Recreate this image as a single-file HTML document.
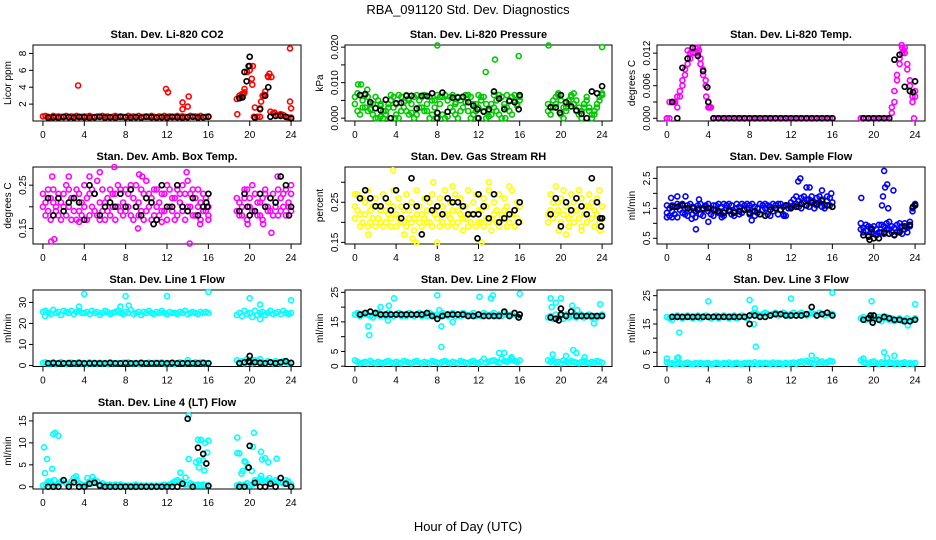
<!DOCTYPE html>
<html><head><meta charset="utf-8"><title>RBA_091120 Std. Dev. Diagnostics</title>
<style>
html,body{margin:0;padding:0;background:#fff;}
svg{display:block;font-family:"Liberation Sans",Arial,sans-serif;}
</style></head>
<body>
<svg id="chart" width="936" height="540" viewBox="0 0 936 540" xmlns="http://www.w3.org/2000/svg">
<rect x="0" y="0" width="936" height="540" fill="#fff"/>
<text x="468" y="14" font-size="13" text-anchor="middle">RBA_091120  Std. Dev. Diagnostics</text>
<text x="468" y="531" font-size="13" text-anchor="middle">Hour of Day (UTC)</text>
</svg>
<script>
const hoursA=[0,0.25,0.5,0.75,1,1.25,1.5,1.75,2,2.25,2.5,2.75,3,3.25,3.5,3.75,
4,4.25,4.5,4.75,5,5.25,5.5,5.75,6,6.25,6.5,6.75,7,7.25,7.5,7.75,
8,8.25,8.5,8.75,9,9.25,9.5,9.75,10,10.25,10.5,10.75,11,11.25,11.5,11.75,
12,12.25,12.5,12.75,13,13.25,13.5,13.75,14,14.25,14.5,14.75,15,15.25,15.5,15.75,
16,
18.75,19,19.25,19.5,19.75,20,20.25,20.5,20.75,21,21.25,21.5,21.75,22,22.25,22.5,22.75,23,23.25,23.5,23.75,24];
const hoursB=[0.5,1,1.5,2,2.5,3,3.5,4,4.5,5,5.5,6,6.5,7,7.5,8,8.5,9,9.5,10,10.5,11,11.5,12,12.5,13,13.5,14,14.5,15,15.5,16,
19,19.5,20,20.5,21,21.5,22,22.5,23,23.5,24];
const xTickLabels=[0,4,8,12,16,20,24];

// CO2
const co2Main=[.55,.6,.5,.45,.6,.5,.55,.5,.45,.6,.5,.55,.5,.6,.45,.5,
.55,.5,.6,.5,.45,.55,.5,.6,.5,.55,.45,.5,.6,.5,.55,.5,
.45,.6,.5,.55,.5,.6,.45,.5,.55,.5,.6,.5,.45,.55,.5,.6,
.5,.55,.45,.5,.6,.5,.55,.5,.45,.6,.5,.55,.5,.6,.45,.5,
.55,
2.6,3.0,3.2,3.4,5.8,6.5,4.3,1.6,.5,1.5,3.0,3.5,5.3,1.1,.9,.6,.7,.6,.7,.5,.4,.4];
const co2OutX=[3.4,11.9,12.1,13.5,13.5,14.1,14.0,18.8,19.5,20.3,20.2,21.1,21.9,22.1,23.9,23.9,24.0,19.2,19.4,21.4,21.8,20.0,20.4,21.0,22.4,23.0];
const co2OutY=[4.2,3.8,3.4,2.2,1.4,2.9,1.7,0.8,3.8,6.5,5.0,2.3,5.6,5.2,8.6,2.3,1.5,2.9,3.2,3.1,5.2,6.0,0.5,0.5,1.0,0.8];
const co2Black=[.4,.45,.4,.5,.45,.4,.5,.45,.4,.45,.5,.4,.45,.4,.5,.45,.4,.45,.4,.5,.45,.4,.45,.4,.5,.45,.4,.45,.5,.4,.45,.5,
2.7,5.8,7.6,.4,1.4,3.0,.5,.6,.6,.5,.3];
const co2BlackX=[19.7,19.9,19.3,21.8];
const co2BlackY=[4.7,6.5,2.8,4.0];

// Pressure
const presA=[.006,.007,.0065,.005,.003,.002,.0025,.004,.006,.005,.004,.002,.001,.003,.005,.006,
.004,.0065,.006,.003,.002,.001,.004,.006,.0065,.005,.003,.002,.004,.006,.005,.003,
.0015,.004,.006,.0065,.005,.003,.002,.004,.006,.005,.003,.0045,.0065,.006,.004,.002,
.003,.005,.006,.004,.002,.001,.003,.005,.0065,.006,.004,.003,.005,.006,.0065,.004,
.006,
.004,.003,.005,.006,.007,.005,.003,.002,.004,.006,.007,.005,.003,.002,.004,.005,.003,.001,.002,.004,.006,.007];
const presB=[.004,.002,.001,.003,.0065,.006,.004,.001,0,0,.0005,0,.002,.004,.0065,.003,
.001,0,.002,.0045,.0065,.005,.0015,0,.001,.003,.006,.0065,.002,0,.001,.005,
.0065,.006,.001,0,.0005,.006,.0065,.001,0,.002,.006,.0065,.002,0,.001,.004,
.0065,.006,.002,0,.0005,.004,.0065,.002,.001,0,.003,.0065,.002,.001,.005,.0035,
.005,
.002,.001,.003,.004,.0065,.001,0,.003,.005,.0065,.004,.002,.001,0,.003,.006,.002,0,.001,.003,.005,.0065];
const presOutX=[8,12.7,13.6,15.9,18.8,24,0.3,0.6,1.2,3.4,3.9,7.9,11.9,14.6,2.5,5.2,9.8];
const presOutY=[.0205,.013,.0165,.0175,.0205,.020,.0095,.0095,.008,0,0,0,0,0,.0035,.0055,.0045];
const presBlack=[.0065,.0068,.0045,.0028,.0022,.0052,0,.0042,.0043,.0063,.0063,.0027,.0063,.0062,.007,.0015,.0072,.0018,.0058,.0058,.006,.0045,.0035,0,.0018,.0025,.0075,.0055,.0025,.0048,.0045,.0065,
.0031,.003,.0065,.0045,.0033,.0022,.0012,0,.0075,.007,.009];
const presBlackX=[8,11.9,15.9,19.9];
const presBlackY=[0,.0025,.0025,.0015];

// Li-820 Temp
const tempA=[0,.003,.003,.003,.004,.005,.006,.008,.010,.011,.012,.013,.012,.011,.009,.007,
.003,.002,0,0,0,0,0,0,0,0,0,0,0,0,0,0,
0,0,0,0,0,0,0,0,0,0,0,0,0,0,0,0,
0,0,0,0,0,0,0,0,0,0,0,0,0,0,0,0,
0,
0,0,0,0,0,0,0,0,0,0,0,0,.002,.005,.008,.011,.013,.012,.009,.006,.004,.005];
const tempB=[0,0,.003,.003,.002,.004,.007,.009,.011,.012,.013,.012,.013,.010,.008,.006,
.002,.002,0,0,0,0,0,0,0,0,0,0,0,0,0,0,
0,0,0,0,0,0,0,0,0,0,0,0,0,0,0,0,
0,0,0,0,0,0,0,0,0,0,0,0,0,0,0,0,
0,
0,0,0,0,0,0,0,0,0,0,0,0,.001,.003,.007,.010,.012,.013,.010,.007,.003,.004];
const tempOutX=[0.6,0.8,2.0,3.8,23.9,4.1,22.7,3.1,22.9];
const tempOutY=[.003,.003,.0125,.004,0,.002,.0135,.0125,.0125];
const tempBlack=[.003,0,.0093,.011,.013,.0115,.0087,.003,0,0,0,0,0,0,0,0,0,0,0,0,0,0,0,0,0,0,0,0,0,0,0,0,
0,0,0,0,0,0,.0108,.0117,.0058,.005,.0068];
const tempBlackX=[3.9,23.8];
const tempBlackY=[.0057,.0048];

// Amb box temp
const ambA=[.23,.21,.19,.22,.24,.2,.18,.21,.23,.25,.2,.17,.22,.24,.19,.21,
.25,.22,.18,.2,.23,.26,.21,.19,.17,.22,.24,.2,.23,.25,.19,.21,
.24,.2,.18,.22,.25,.21,.19,.23,.26,.2,.22,.18,.24,.21,.19,.23,
.25,.2,.22,.17,.24,.21,.19,.23,.26,.2,.18,.22,.24,.21,.19,.22,
.2,
.19,.21,.18,.22,.24,.2,.19,.23,.21,.18,.22,.24,.2,.19,.23,.21,.18,.22,.2,.24,.21,.23];
const ambB=[.2,.18,.24,.17,.21,.19,.23,.17,.2,.18,.24,.22,.19,.17,.23,.18,
.2,.17,.23,.24,.19,.18,.17,.24,.21,.19,.18,.23,.17,.2,.24,.18,
.19,.23,.25,.17,.2,.18,.24,.17,.19,.23,.17,.24,.2,.18,.23,.19,
.17,.24,.19,.22,.18,.23,.25,.17,.2,.23,.24,.18,.2,.17,.23,.19,
.18,
.22,.18,.2,.24,.17,.22,.25,.19,.18,.21,.17,.23,.19,.22,.18,.2,.24,.19,.23,.18,.2,.19];
const ambOutX=[0.8,1.1,0.9,2.5,4.5,5.5,6.9,9.3,9.6,13.9,14.2,9.2,19.8,21.3,22.1,22.7,24,16,3.5,11.5,15.2];
const ambOutY=[.12,.125,.27,.27,.27,.28,.295,.275,.27,.28,.115,.15,.16,.16,.14,.27,.25,.17,.165,.165,.16];
const ambBlack=[.22,.18,.22,.19,.21,.22,.21,.17,.25,.23,.18,.2,.21,.2,.23,.2,.24,.2,.18,.22,.21,.17,.25,.2,.2,.25,.2,.19,.22,.18,.2,.23,
.19,.23,.18,.19,.23,.2,.22,.21,.27,.25,.2];
const ambBlackX=[15.8,15.9,19.8,23.8,10.7];
const ambBlackY=[.21,.2,.2,.18,.16];

// RH
const rhA=[.24,.27,.22,.2,.25,.28,.23,.21,.26,.24,.2,.27,.23,.25,.21,.28,
.22,.26,.24,.2,.27,.23,.25,.21,.28,.24,.22,.26,.2,.25,.27,.23,
.21,.26,.24,.28,.22,.25,.2,.27,.23,.26,.21,.24,.28,.22,.25,.27,
.23,.2,.26,.24,.28,.21,.25,.23,.27,.22,.26,.24,.2,.28,.23,.25,
.24,
.22,.27,.25,.29,.23,.26,.28,.24,.21,.27,.25,.23,.28,.26,.22,.24,.27,.25,.23,.26,.28,.24];
const rhB=[.21,.23,.19,.26,.22,.19,.2,.24,.19,.21,.23,.19,.2,.22,.19,.24,
.19,.21,.2,.23,.19,.21,.2,.18,.22,.2,.19,.21,.23,.2,.19,.22,
.24,.19,.2,.22,.19,.21,.23,.19,.2,.22,.18,.21,.19,.2,.22,.19,
.2,.23,.19,.21,.2,.18,.22,.2,.19,.21,.23,.19,.2,.22,.19,.21,
.2,
.2,.23,.21,.22,.25,.2,.22,.24,.19,.22,.2,.23,.21,.19,.22,.2,.24,.21,.19,.22,.2,.21];
const rhOutX=[3.7,4.8,5.6,6,8,12.3,13,1.3,7.6,19.8,20.5,22,23.8,0,9.5,15];
const rhOutY=[.33,.17,.16,.15,.15,.15,.3,.17,.3,.18,.17,.18,.18,.27,.29,.29];
const rhBlack=[.26,.28,.26,.24,.24,.26,.23,.28,.21,.24,.31,.24,.17,.26,.23,.24,.22,.26,.25,.25,.24,.22,.22,.27,.24,.21,.27,.2,.21,.22,.23,.25,
.22,.26,.19,.25,.23,.26,.24,.22,.31,.25,.21];
const rhBlackX=[11.9,12,15.9,23.9,23.8];
const rhBlackY=[.16,.22,.2,.19,.21];

// Sample flow
const flowA=[1.6,1.5,1.4,1.55,1.65,1.45,1.35,1.5,1.6,1.45,1.55,1.4,1.5,1.65,1.45,1.55,
1.4,1.5,1.6,1.45,1.35,1.55,1.65,1.5,1.45,1.6,1.4,1.5,1.55,1.65,1.45,1.5,
1.6,1.4,1.55,1.5,1.65,1.45,1.5,1.6,1.55,1.4,1.5,1.65,1.45,1.55,1.6,1.5,
1.7,1.8,1.65,1.75,1.85,1.7,1.6,1.8,1.75,1.65,1.85,1.7,1.8,1.6,1.75,1.85,
1.7,
1.0,.85,.75,.9,.7,.65,.8,.95,.7,.9,1.0,.8,.7,.85,.95,.75,.9,1.0,.85,1.05,1.5,1.6];
const flowB=[1.35,1.25,1.6,1.3,1.2,1.6,1.65,1.3,1.25,1.65,1.3,1.2,1.6,1.3,1.25,1.6,
1.65,1.3,1.25,1.6,1.65,1.3,1.25,1.6,1.65,1.3,1.25,1.65,1.3,1.35,1.6,1.65,
1.3,1.65,1.25,1.35,1.3,1.6,1.65,1.3,1.25,1.65,1.6,1.3,1.65,1.3,1.25,1.6,
1.55,1.6,1.9,1.55,1.5,1.9,1.8,1.55,1.9,1.5,1.6,1.9,1.55,1.5,1.9,1.6,
1.55,
.8,.7,.95,.6,.85,.9,.6,.7,.95,.65,.8,1.05,.9,.6,.7,1.0,.65,.8,.7,.9,1.4,1.65];
const flowOutX=[0.4,1,1.8,2.8,3.1,4,8.2,12.7,12.9,13.5,13.8,15,15.9,18.8,21.0,21.3,20.9,21.1,21.9,21.4,20.8,0,0.5,2.4,5.3,11.3];
const flowOutY=[1.85,1.9,1.9,0.8,1.8,1.05,1.1,2.4,2.5,2.2,2.2,2.1,2.0,1.85,2.75,2.3,1.9,2.2,2.1,1.5,1.6,1.2,1.2,1.15,1.2,1.25];
const flowBlack=[1.55,1.55,1.6,1.5,1.5,1.45,1.5,1.5,1.45,1.4,1.35,1.4,1.35,1.4,1.45,1.35,1.4,1.3,1.25,1.45,1.5,1.45,1.6,1.5,1.55,1.65,1.6,1.7,1.65,1.75,1.6,1.55,
.6,.55,.5,.5,.7,.65,.62,.7,.9,.95,1.6];
const flowBlackX=[19.8,23.8,19.6];
const flowBlackY=[.8,1.55,.45];

// Line 1
const l1High=[25.5,26,25,24.5,26.5,25,25.5,24,26,25.5,25,26,24.5,25.5,26,25,
25,25.5,24.5,26,25,25.5,24,25,26,25.5,24.5,25,25.5,26,25,24.5,
25.5,25,26.5,24.5,25,25.5,24,25.5,25,26,25,24.5,25.5,25,26,25,
24.5,25.5,25,25,24.5,25.5,25,26,24.5,25,25.5,25,24.5,25.5,25,25.5,
25,
24,25,23.5,26,24.5,25,23,26,24,25,25.5,24,25,26,24.5,25,25.5,24.5,26,25,24.5,25];
const l1Low=[1.2,1.5,0.8,1,1.3,0.9,1.1,1.6,1,0.8,1.2,1.4,0.9,1.1,1.3,1,
1.2,0.8,1.5,1,1.1,0.9,1.3,1,1.2,0.8,1.4,1.1,0.9,1.2,1,1.3,
1.1,1.5,0.9,1,1.2,0.8,1.3,1.1,1,1.4,0.9,1.2,1,1.1,1.5,0.9,
1.2,1,1.3,0.8,1.1,1.5,1.2,1,2.5,1.3,0.9,1.5,1.2,1.4,1,1.1,
1.2,
2.5,1.5,2,1,3,1.5,1,2.5,2,3,1.5,1,2,1.5,1,2,1.5,1,2,1.5,1,1.2];
const l1OutX=[4,8,12,16,20,21,24,3.5,7.5,8.3,21,0.2];
const l1OutY=[34,33,33,35,32,29,31,28,28,28.5,22,23.5];
const l1Black=[1,1.2,1,1,1.1,1,1.2,1,1,1.1,1,1,1.2,1,1,1.1,1,1,1.2,1,1,1.1,1,1,1.2,1,1,1.1,1,1,1.2,1,
1,1.5,4.5,1.5,1.2,1,1.5,1,1.5,2,1.2];
const l1BlackX=[19.9,20];
const l1BlackY=[2,1.5];

// Line 2
const l2High=[17.5,18,17,17.5,18,17.5,17,16.5,17.5,18,17,17.5,17,18,17.5,17,
17.5,18,17,17.5,17,18,17.5,17,17.5,18,17,17.5,17,18,17.5,17,
17.5,17,18,17.5,17,17.5,18,17,17.5,17,18,17.5,17,17.5,18,17,
17.5,17,18,17.5,17,17.5,18,17,17.5,17,18,17.5,17,17.5,18,17,
17.5,
16.5,17,16,17.5,16.5,17,16,17.5,16.5,17,17.5,16.5,17,17.5,16.5,17,17.5,16.5,17,16.5,17,17.5];
const l2Low=[2,1.5,1,1.2,1.5,1,1.8,1.2,1,1.5,1.2,1,1.5,1.8,1.2,1,
1.5,1.2,1,1.8,1.5,1.2,1,1.5,1.8,1.2,1,1.5,1.2,1,1.8,1.5,
1.2,1,1.5,1.8,1.2,1,1.5,1.2,1,1.8,1.5,1.2,1,1.5,1.8,1.2,
1,1.5,2.5,1.2,1.5,1.8,2,1.5,1.2,2.5,1.8,1.5,2,2.5,1.8,1.5,
2,
2,1.5,1.8,1.2,1.5,1,2,1.5,1.2,1.8,1.5,1.2,1,1.5,1.8,1.2,1,1.5,1.2,1.8,1.5,1.2];
const l2OutX=[1.3,1.4,2.5,3.3,3.8,8,8.4,8.4,8.2,9.5,12.1,13.2,13.4,16,19,19.1,19.5,20,21.1,23.8,23.2,14,14.5,15.2,19.2,21.2,21.5,22.3,20.5,3.2,21.6];
const l2OutY=[13.5,10.5,20,20.5,23,24,13.5,6.5,19,15,23.5,23,24,24.5,23,20,21.5,23,20.5,21,14.5,4.5,4.5,3,4,5.5,4.5,3,3.5,15.5,19];
const l2Black=[17.5,18,18.5,18,17.5,17.5,17.5,17.5,17.5,17.5,17.5,17.5,17.5,18,17,16,17,17.5,17.5,17.5,17.5,17,17,17.5,17,17,17,17,18.5,17,18,17.5,
16.5,16,19.5,17,18.5,17,17,17,17,17,17];
const l2BlackX=[15.9,19.8,20];
const l2BlackY=[16.5,15.5,17.5];

// Line 3
const l3High=[17.5,17,16.5,17.5,18,17.5,17,17.5,18,17.5,17,17.5,18,17,17.5,18,
17.5,17,17.5,18,17,17.5,18,17.5,17,17.5,18,17,17.5,18,17.5,17,
18,18.5,19,18.5,18,18.5,19,18.5,18,18.5,19,18,18.5,19,18.5,18,
18.5,19,18,18.5,19,18.5,18,18.5,19,18.5,18,19,18.5,18,19,18.5,
18.5,
17,17.5,16.5,17,17.5,16.5,17,17.5,16,17,17.5,16.5,17,16,16.5,17,16,16.5,17,16,16.5,17];
const l3Low=[1.5,1,1.2,0.8,1,1.3,0.9,1.1,1.4,1,0.8,1.2,1,1.3,0.9,1.1,
1.2,0.8,1,1.3,1.1,0.9,1.2,1,1.4,0.8,1.1,1.3,1,0.9,1.2,1.1,
1.3,1,1.5,0.9,1.2,1,1.3,1.1,0.9,1.4,1,1.2,1.1,0.9,1.3,1,
1.2,1.4,1,1.5,1.8,1.3,2,1.5,1.2,1,2.2,1.5,1.8,1.2,1.5,2,
1.8,
2.2,1.5,1.2,1,1.5,1.8,1.2,1,1.5,1.2,1,1.5,1.2,1,1.3,1,1.2,1.5,1,1.2,1,1.2];
const l3OutX=[1.2,4,8,8.5,8.6,12,16,19.8,24,1,14,21,21.3,22,0,19,23.3,8.4,1.1];
const l3OutY=[12,23,23.5,20.5,7,24,26,23,22,3,3.8,5,3,3.8,2.8,2.8,14.5,15,3.2];
const l3Black=[17.5,17.5,17.5,17.5,17.5,17.5,17.5,17.5,17.5,17.5,17.5,17.5,17.5,17.5,17.5,18,18,17.5,17.5,18,18.5,18.5,18,18,18,18,18.5,21,18,18.5,19,18,
16.5,17,18,16.5,17.5,17,16.5,16.5,16,16,16.5];
const l3BlackX=[8,19.9,19.7];
const l3BlackY=[15,15.5,18];

// Line 4
const l4Main=[.3,.5,.8,1.2,.5,.3,.8,1.2,1.5,.8,.5,1.2,2,1.5,.8,.5,
.3,.5,1.2,.8,1.5,1.2,.5,.8,.5,.3,.5,.2,.5,.3,.5,.3,
.2,.3,.2,.3,.5,.2,.3,.2,.3,.2,.3,.2,.3,.2,.3,.5,
.3,.5,.8,1.2,1.5,1.2,.8,.5,.5,.8,.5,.3,.5,.3,.5,.3,
.3,
.3,.5,.2,.5,.8,.3,.5,1.5,1.2,1.8,1.5,1,1.5,1.2,1,1.5,1.2,1,.8,1.5,1.2,.5];
const l4OutX=[0.1,0.2,0.4,0.9,1.0,1.2,1.5,3.2,4.3,4.8,13.3,13.8,14.1,14.1,14.8,15.0,15.3,15.1,15.6,15.5,15.7,16,15.9,15.1,18.8,18.8,19.0,19.2,19.3,19.5,19.6,19.8,20.2,20.4,20.3,21.1,21.2,21.5,21.8,22.6,21.9,21.1,0.5,1.1];
const l4OutY=[9,3.1,6.3,4.1,12,12.3,11.6,2.4,2.0,2.2,3.2,2.1,6.3,16.2,5.6,10.7,10.7,6.0,3.7,6.0,10,10.5,7.8,4.4,11.2,7.7,7.6,3.0,3.6,5.8,5.6,4.4,3.6,12.3,9.1,8,6.2,6.5,5.6,6.4,2,2.5,1.2,1.5];
const l4Black=[0,0,0,1.5,0,1,0,0,.7,.9,.3,0,0,0,0,0,0,0,0,0,0,0,0,0,0,0,.7,15.5,0,8.9,7.5,.2,
0,0,9.3,.9,0,0,.7,0,2,.7,0];
const l4BlackX=[15.8,19.9];
const l4BlackY=[5.3,4.4];

// layout (not data)
const colX=[[33,301],[345,612],[657,925]];
const rowY=[[45,121],[167,244],[290,366.5],[413,489]];

const panels=[
 {c:0,r:0,title:"Stan. Dev. Li-820 CO2",ylab:"Licor ppm",ymin:0,ymax:9.0,ticks:[2,4,6,8],labels:["2","4","6","8"],color:"#ff0000",series:[co2Main],ox:co2OutX,oy:co2OutY,black:co2Black,bx:co2BlackX,by:co2BlackY,name:"co2"},
 {c:1,r:0,title:"Stan. Dev. Li-820 Pressure",ylab:"kPa",ymin:-0.0008,ymax:0.0206,ticks:[0,0.005,0.01,0.015,0.02],labels:["0.000","","0.010","","0.020"],color:"#00c800",series:[presA,presB],ox:presOutX,oy:presOutY,black:presBlack,bx:presBlackX,by:presBlackY,name:"pressure"},
 {c:2,r:0,title:"Stan. Dev. Li-820 Temp.",ylab:"degrees C",ymin:-0.0005,ymax:0.0135,ticks:[0,0.003,0.006,0.009,0.012],labels:["0.000","","0.006","","0.012"],color:"#ff00ff",series:[tempA,tempB],ox:tempOutX,oy:tempOutY,black:tempBlack,bx:tempBlackX,by:tempBlackY,name:"li820-temp"},
 {c:0,r:1,title:"Stan. Dev. Amb. Box Temp.",ylab:"degrees C",ymin:0.114,ymax:0.292,ticks:[0.15,0.2,0.25],labels:["0.15","","0.25"],color:"#ff00ff",series:[ambA,ambB],ox:ambOutX,oy:ambOutY,black:ambBlack,bx:ambBlackX,by:ambBlackY,name:"amb-box-temp"},
 {c:1,r:1,title:"Stan. Dev. Gas Stream RH",ylab:"percent",ymin:0.146,ymax:0.338,ticks:[0.15,0.2,0.25,0.3],labels:["0.15","","0.25",""],color:"#ffff00",series:[rhA,rhB],ox:rhOutX,oy:rhOutY,black:rhBlack,bx:rhBlackX,by:rhBlackY,name:"gas-rh"},
 {c:2,r:1,title:"Stan. Dev. Sample Flow",ylab:"ml/min",ymin:0.31,ymax:2.88,ticks:[0.5,1,1.5,2,2.5],labels:["0.5","","1.5","","2.5"],color:"#0000ff",series:[flowA,flowB],ox:flowOutX,oy:flowOutY,black:flowBlack,bx:flowBlackX,by:flowBlackY,name:"sample-flow"},
 {c:0,r:2,title:"Stan. Dev. Line 1 Flow",ylab:"ml/min",ymin:-0.5,ymax:35.9,ticks:[0,10,20,30],labels:["0","10","20","30"],color:"#00ffff",series:[l1High,l1Low],ox:l1OutX,oy:l1OutY,black:l1Black,bx:l1BlackX,by:l1BlackY,name:"line1-flow"},
 {c:1,r:2,title:"Stan. Dev. Line 2 Flow",ylab:"ml/min",ymin:-0.1,ymax:25.8,ticks:[0,5,10,15,20,25],labels:["0","5","","15","","25"],color:"#00ffff",series:[l2High,l2Low],ox:l2OutX,oy:l2OutY,black:l2Black,bx:l2BlackX,by:l2BlackY,name:"line2-flow"},
 {c:2,r:2,title:"Stan. Dev. Line 3 Flow",ylab:"ml/min",ymin:0,ymax:27,ticks:[0,5,10,15,20,25],labels:["0","5","","15","","25"],color:"#00ffff",series:[l3High,l3Low],ox:l3OutX,oy:l3OutY,black:l3Black,bx:l3BlackX,by:l3BlackY,name:"line3-flow"},
 {c:0,r:3,title:"Stan. Dev. Line 4 (LT) Flow",ylab:"ml/min",ymin:-0.5,ymax:16.8,ticks:[0,5,10,15],labels:["0","5","10","15"],color:"#00ffff",series:[l4Main],ox:l4OutX,oy:l4OutY,black:l4Black,bx:l4BlackX,by:l4BlackY,name:"line4-flow"}
];

const svg=document.getElementById('chart');
const NS="http://www.w3.org/2000/svg";
function mk(tag,attrs,parent){const e=document.createElementNS(NS,tag);for(const k in attrs)e.setAttribute(k,attrs[k]);parent.appendChild(e);return e;}

panels.forEach(p=>{
  const [x0,x1]=colX[p.c],[y0,y1]=rowY[p.r];
  const xs=h=>x0+(h+0.96)/25.92*(x1-x0);
  const ys=v=>y1-(v-p.ymin)/(p.ymax-p.ymin)*(y1-y0);
  const g=mk('g',{},svg);
  
  
  const t=mk('text',{x:(x0+x1)/2,y:y0-7,'font-size':11,'font-weight':'bold','text-anchor':'middle'},g);
  t.textContent=p.title;
  
  
  const yl=mk('text',{transform:`translate(${x0-22},${(y0+y1)/2}) rotate(-90)`,'font-size':10,'text-anchor':'middle'},g);
  yl.textContent=p.ylab;
  
  
  // x axis
  const xa=mk('g',{},g);
  
  
  mk('line',{x1:xs(0),x2:xs(24),y1:y1,y2:y1,stroke:'#000','stroke-width':1},xa);
  xTickLabels.forEach(v=>{
    mk('line',{x1:xs(v),x2:xs(v),y1:y1,y2:y1+5,stroke:'#000','stroke-width':1},xa);
    const tl=mk('text',{x:xs(v),y:y1+17,'font-size':10,'text-anchor':'middle'},xa);
    tl.textContent=v;
    
    
  });
  // y axis
  const ya=mk('g',{},g);
  
  
  mk('line',{x1:x0,x2:x0,y1:ys(p.ticks[0]),y2:ys(p.ticks[p.ticks.length-1]),stroke:'#000','stroke-width':1},ya);
  p.ticks.forEach((v,i)=>{
    mk('line',{x1:x0-4,x2:x0,y1:ys(v),y2:ys(v),stroke:'#000','stroke-width':1},ya);
    if(p.labels[i]){
      const tl=mk('text',{transform:`translate(${x0-7},${ys(v)}) rotate(-90)`,'font-size':10,'text-anchor':'middle'},ya);
      tl.textContent=p.labels[i];
      
      
    }
  });
  // box
  const bx=mk('rect',{x:x0,y:y0,width:x1-x0,height:y1-y0,fill:'none',stroke:'#000','stroke-width':1},g);
  
  
  // points
  const pts=mk('g',{fill:'none',stroke:p.color,'stroke-width':1.6},g);
  
  
  const dot=(parent,h,v)=>{
    const vv=Math.max(p.ymin,Math.min(p.ymax,v));
    const c=mk('circle',{cx:xs(h).toFixed(1),cy:ys(vv).toFixed(1),r:2.5},parent);
    
    
  };
  p.series.forEach(arr=>{const n=Math.min(arr.length,hoursA.length);for(let i=0;i<n;i++)dot(pts,hoursA[i],arr[i]);});
  for(let i=0;i<Math.min(p.ox.length,p.oy.length);i++)dot(pts,p.ox[i],p.oy[i]);
  const bp=mk('g',{fill:'none',stroke:'#000','stroke-width':1.7},g);
  
  
  for(let i=0;i<Math.min(p.black.length,hoursB.length);i++)dot(bp,hoursB[i],p.black[i]);
  for(let i=0;i<Math.min(p.bx.length,p.by.length);i++)dot(bp,p.bx[i],p.by[i]);
});
</script>
</body></html>
